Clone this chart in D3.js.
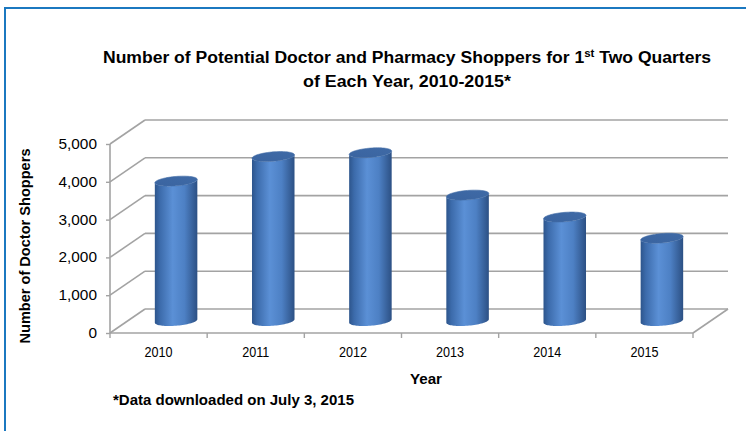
<!DOCTYPE html>
<html>
<head>
<meta charset="utf-8">
<script src="https://cdn.jsdelivr.net/npm/d3@7"></script>
<style>
  html, body { margin: 0; padding: 0; background: #fff; }
  svg { display: block; }
  text { font-family: "Liberation Sans", Arial, sans-serif; fill: #000; }
</style>
</head>
<body>
<svg id="chart" width="746" height="431"></svg>
<script>
// ---- data ----
const years = ["2010", "2011", "2012", "2013", "2014", "2015"];
const shoppers = [3700, 4350, 4450, 3330, 2750, 2190];
const yTicks = [0, 1000, 2000, 3000, 4000, 5000];
const titleLine1 = ["Number of Potential Doctor and Pharmacy Shoppers for 1", "st", " Two Quarters"];
const titleLine2 = "of Each Year, 2010-2015*";
const yTitle = "Number of Doctor Shoppers";
const xTitle = "Year";
const footnote = "*Data downloaded on July 3, 2015";

// ---- layout ----
const svg = d3.select("#chart");
const plotLeft = 110, plotRight = 693, plotBottom = 333, plotTop = 144;
const depthX = 35, depthY = -24;   // oblique depth offset of back wall

const x = d3.scaleBand().domain(years).range([plotLeft, plotRight]);
const y = d3.scaleLinear().domain([0, 5000]).range([plotBottom, plotTop]);

function stretch(sel, k) {
  sel.each(function () {
    const w = this.getComputedTextLength();
    this.setAttribute("textLength", w * k);
    this.setAttribute("lengthAdjust", "spacingAndGlyphs");
  });
}
function fitTo(sel, w) {
  sel.attr("textLength", w).attr("lengthAdjust", "spacingAndGlyphs");
}

// frame
svg.append("rect").attr("x", 5).attr("y", 8).attr("width", 800).attr("height", 500)
  .attr("fill", "none").attr("stroke", "#1b78c0").attr("stroke-width", 2);

// title
const t1 = svg.append("text").attr("x", 407).attr("y", 63).attr("text-anchor", "middle")
  .attr("font-weight", "bold").attr("font-size", 16);
t1.append("tspan").text(titleLine1[0]);
t1.append("tspan").attr("font-size", 10.5).attr("dy", -6).text(titleLine1[1]);
t1.append("tspan").attr("dy", 6).text(titleLine1[2]);
fitTo(t1, 608);
const t2 = svg.append("text").attr("x", 407).attr("y", 87).attr("text-anchor", "middle")
  .attr("font-weight", "bold").attr("font-size", 16).text(titleLine2);
fitTo(t2, 208);

// gridlines: back wall + side diagonals
const gridColor = "#a3a3a3";
const g = svg.append("g");
g.selectAll("line.back").data(yTicks).join("line")
  .attr("x1", plotLeft + depthX).attr("x2", plotRight + depthX)
  .attr("y1", d => y(d) + depthY).attr("y2", d => y(d) + depthY)
  .attr("stroke", gridColor).attr("stroke-width", 1.6);
g.selectAll("line.side").data(yTicks).join("line")
  .attr("x1", plotLeft).attr("x2", plotLeft + depthX)
  .attr("y1", d => y(d)).attr("y2", d => y(d) + depthY)
  .attr("stroke", gridColor).attr("stroke-width", 1.6);
// floor front & right edge
g.append("line").attr("x1", plotLeft).attr("x2", plotRight).attr("y1", y(0)).attr("y2", y(0))
  .attr("stroke", gridColor).attr("stroke-width", 1.6);
g.append("line").attr("x1", plotRight).attr("x2", plotRight + depthX).attr("y1", y(0)).attr("y2", y(0) + depthY)
  .attr("stroke", gridColor).attr("stroke-width", 1.6);

// y axis
const yAxis = svg.append("g").attr("transform", `translate(${plotLeft},0)`)
  .call(d3.axisLeft(y).tickValues(yTicks).tickFormat(d3.format(",")).tickSize(4).tickPadding(9));
yAxis.select(".domain").attr("stroke", gridColor).attr("stroke-width", 1.6).attr("d", `M0,${y(5000)}V${y(0)}`);
yAxis.selectAll(".tick line").attr("stroke", gridColor).attr("stroke-width", 1.4);
yAxis.selectAll(".tick text").attr("font-size", 14).attr("font-family", "Liberation Sans, Arial, sans-serif").call(stretch, 1.1);

// x axis
const xAxis = svg.append("g").attr("transform", `translate(0,${plotBottom})`)
  .call(d3.axisBottom(x).tickSize(0).tickPadding(14));
xAxis.select(".domain").remove();
xAxis.selectAll(".tick text").attr("font-size", 14).attr("font-family", "Liberation Sans, Arial, sans-serif").call(stretch, 0.9);
const bounds = years.map(d => x(d)).concat([x.range()[1]]);
svg.append("g").selectAll("line").data(bounds).join("line")
  .attr("x1", d => d).attr("x2", d => d).attr("y1", plotBottom).attr("y2", plotBottom + 5)
  .attr("stroke", gridColor).attr("stroke-width", 1.4);

// axis titles
const yt = svg.append("text").attr("transform", "translate(30,246) rotate(-90)")
  .attr("text-anchor", "middle").attr("font-weight", "bold").attr("font-size", 14).text(yTitle);
fitTo(yt, 195);
const xt = svg.append("text").attr("x", 426).attr("y", 384).attr("text-anchor", "middle")
  .attr("font-weight", "bold").attr("font-size", 15).text(xTitle);
fitTo(xt, 32);
const fn = svg.append("text").attr("x", 113).attr("y", 405)
  .attr("font-weight", "bold").attr("font-size", 14).text(footnote);
fitTo(fn, 241);

// cylinders
const defs = svg.append("defs");
const side = defs.append("linearGradient").attr("id", "side").attr("x1", 0).attr("x2", 1).attr("y1", 0).attr("y2", 0);
[[0, "#2d558c"], [0.12, "#3c6bab"], [0.42, "#5b90d6"], [0.7, "#4d80c4"], [1, "#2c5084"]]
  .forEach(([o, c]) => side.append("stop").attr("offset", o).attr("stop-color", c));
const topG = defs.append("linearGradient").attr("id", "topg").attr("x1", 0).attr("x2", 1).attr("y1", 1).attr("y2", 0);
[[0, "#3a64a0"], [1, "#3f6aa6"]].forEach(([o, c]) => topG.append("stop").attr("offset", o).attr("stop-color", c));

const r = 20, a = 0.36, b = 0.25;
const t0 = Math.atan(a);
function P(cx, cy, t) { return [cx + r * Math.cos(t) + a * r * Math.sin(t), cy - b * r * Math.sin(t)]; }
function bodyPath(cx, yTop, yBot) {
  const pts = [];
  const n = 40;
  for (let i = 0; i <= n; i++) pts.push(P(cx, yBot, t0 + Math.PI + Math.PI * i / n));
  for (let i = 0; i <= n; i++) pts.push(P(cx, yTop, t0 + 2 * Math.PI - Math.PI * i / n));
  return "M" + pts.map(p => p[0].toFixed(2) + "," + p[1].toFixed(2)).join("L") + "Z";
}
function ellipsePath(cx, cy) {
  const pts = [];
  for (let i = 0; i < 72; i++) pts.push(P(cx, cy, 2 * Math.PI * i / 72));
  return "M" + pts.map(p => p[0].toFixed(2) + "," + p[1].toFixed(2)).join("L") + "Z";
}
const data = years.map((yr, i) => ({ yr, v: shoppers[i] }));
const cyl = svg.append("g").selectAll("g").data(data).join("g");
const cxOf = d => x(d.yr) + x.bandwidth() / 2 + depthX / 2;
cyl.append("path").attr("d", d => bodyPath(cxOf(d), y(d.v) + depthY / 2, y(0) + depthY / 2))
  .attr("fill", "url(#side)");
cyl.append("path").attr("d", d => ellipsePath(cxOf(d), y(d.v) + depthY / 2))
  .attr("fill", "url(#topg)").attr("stroke", "#456fa8").attr("stroke-width", 0.6);
</script>
</body>
</html>
